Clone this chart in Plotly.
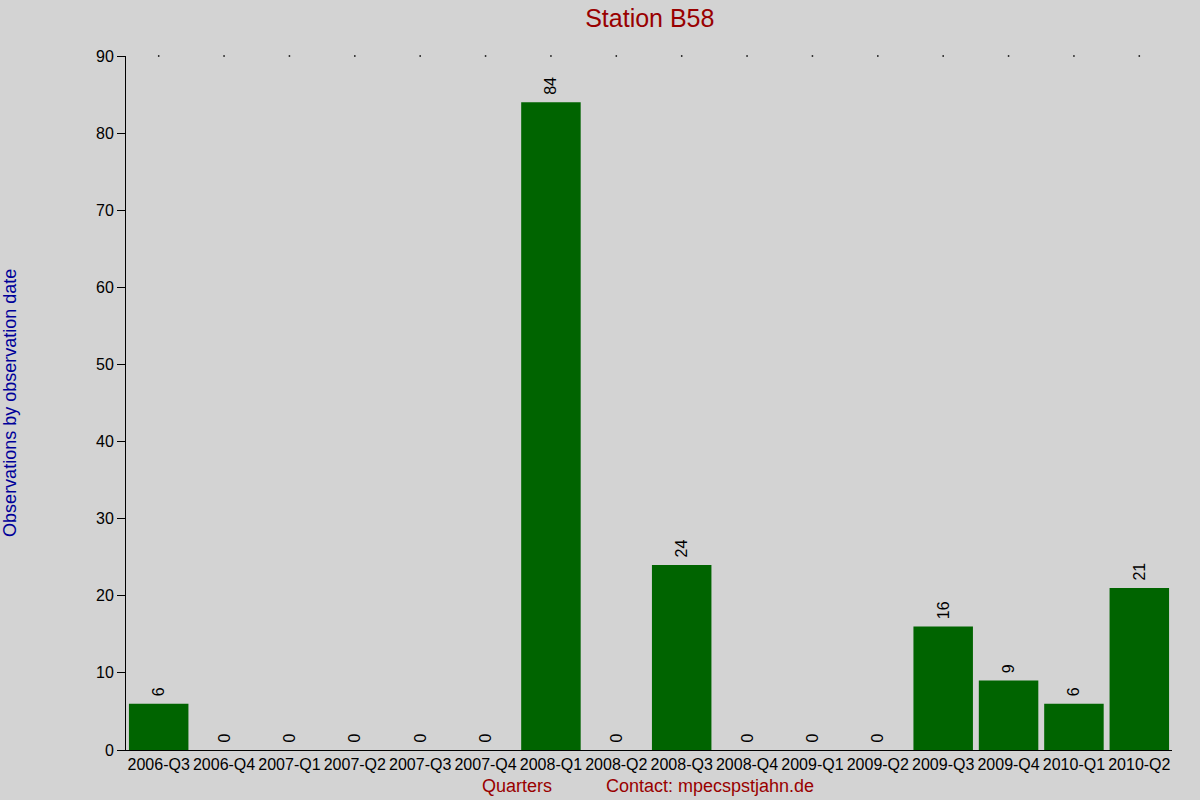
import plotly.graph_objects as go

quarters = ["2006-Q3", "2006-Q4", "2007-Q1", "2007-Q2", "2007-Q3", "2007-Q4",
            "2008-Q1", "2008-Q2", "2008-Q3", "2008-Q4", "2009-Q1", "2009-Q2",
            "2009-Q3", "2009-Q4", "2010-Q1", "2010-Q2"]
observations = [6, 0, 0, 0, 0, 0, 84, 0, 24, 0, 0, 0, 16, 9, 6, 21]
y_ticks = [0, 10, 20, 30, 40, 50, 60, 70, 80, 90]
y_max = 90

FONT = "Liberation Sans, Arial, sans-serif"
DARK_RED = "#990000"
DARK_BLUE = "#000099"

fig = go.Figure()

# bars with rotated value labels above them (leading space = small gap)
fig.add_trace(go.Bar(
    x=quarters,
    y=observations,
    marker=dict(color="#006400", line=dict(width=0)),
    text=[" " + str(v) for v in observations],
    textposition="outside",
    textangle=-90,
    constraintext="none",
    textfont=dict(family=FONT, size=16, color="black"),
    cliponaxis=False,
    showlegend=False,
    hoverinfo="x+y",
))

# little dots along the top of the plot area
fig.add_trace(go.Scatter(
    x=quarters,
    y=[y_max] * len(quarters),
    mode="markers",
    marker=dict(symbol="square", size=1.5, color="black", line=dict(width=0)),
    showlegend=False,
    hoverinfo="skip",
    cliponaxis=False,
))

fig.update_layout(
    width=1200,
    height=800,
    paper_bgcolor="#d3d3d3",
    plot_bgcolor="#d3d3d3",
    margin=dict(l=126, r=28, t=56, b=50),
    bargap=0.09,
    font=dict(family=FONT, color="black"),
    title=dict(text="Station B58", x=0.5415, xanchor="center", y=0.977, yanchor="middle",
               font=dict(family=FONT, size=25, color=DARK_RED)),
    xaxis=dict(
        range=[-0.5, len(quarters) - 0.5],
        showgrid=False,
        showline=True,
        linecolor="black",
        linewidth=1,
        ticks="",
        tickfont=dict(family=FONT, size=16, color="black"),
        zeroline=False,
    ),
    yaxis=dict(
        range=[0, y_max],
        tickvals=y_ticks,
        showgrid=False,
        showline=True,
        linecolor="black",
        linewidth=1,
        ticks="outside",
        ticklen=8,
        tickcolor="black",
        tickfont=dict(family=FONT, size=16, color="black"),
        zeroline=False,
    ),
    annotations=[
        dict(text="Observations by observation date", textangle=-90,
             xref="paper", yref="paper", x=-0.111, y=0.5, xanchor="center", yanchor="middle",
             showarrow=False, font=dict(family=FONT, size=18, color=DARK_BLUE)),
        dict(text="Quarters", xref="paper", yref="paper", x=0.374, y=0, yshift=-36,
             xanchor="center", yanchor="middle", showarrow=False,
             font=dict(family=FONT, size=18, color=DARK_RED)),
        dict(text="Contact: mpecspstjahn.de", xref="paper", yref="paper", x=0.558, y=0, yshift=-36,
             xanchor="center", yanchor="middle", showarrow=False,
             font=dict(family=FONT, size=18, color=DARK_RED)),
    ],
)

fig.write_html("out.html", config={"displayModeBar": False},
               post_script="document.body.style.margin='0';document.body.style.overflow='hidden';")
